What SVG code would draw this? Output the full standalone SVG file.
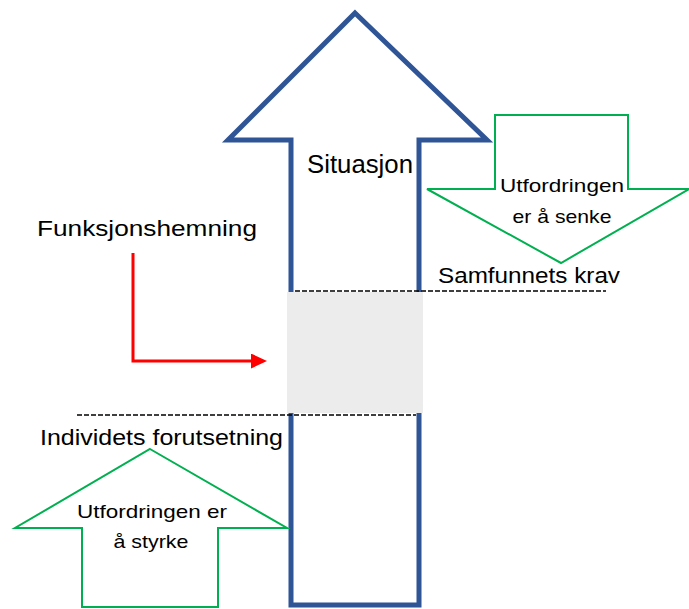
<svg xmlns="http://www.w3.org/2000/svg" width="689" height="609" viewBox="0 0 689 609">
<defs>
<style>
text{font-family:"Liberation Sans",Arial,sans-serif;fill:#000}
.blue{fill:#fff;stroke:#2F5597;stroke-width:5;stroke-linejoin:miter}
.green{fill:#fff;stroke:#00B050;stroke-width:2}
.dash{stroke:#000;stroke-width:1.3;stroke-dasharray:5 2;fill:none}
.lbl{font-size:22px}
.small{font-size:19px;text-anchor:middle}
</style>
<marker id="redhead" markerWidth="5.4" markerHeight="5" refX="0" refY="2.5" orient="auto" markerUnits="strokeWidth">
<path d="M0,0 L5.4,2.5 L0,5 Z" fill="#FF0000"/>
</marker>
</defs>
<rect width="689" height="609" fill="#fff"/>
<g id="situasjon">
<path class="blue" d="M355,13 L487,140 L419,140 L419,605 L291,605 L291,140 L228,140 Z"/>
<rect id="overlap" x="287" y="292" width="136" height="121" fill="#ECECEC"/>
<text x="307" y="173" style="font-size:25px" textLength="106" lengthAdjust="spacingAndGlyphs">Situasjon</text>
</g>
<g id="samfunn">
<path class="green" d="M495,115 L628,115 L628,189 L689,189 L561,263 L427,189 L495,189 Z"/>
<text class="small" x="562" y="192" textLength="124" lengthAdjust="spacingAndGlyphs">Utfordringen</text>
<text class="small" x="562" y="223" textLength="99" lengthAdjust="spacingAndGlyphs">er å senke</text>
</g>
<g id="individ">
<path class="green" d="M150,449 L287,528 L218,528 L218,607 L82,607 L82,528 L15,528 Z"/>
<text class="small" x="152" y="518" textLength="150" lengthAdjust="spacingAndGlyphs">Utfordringen er</text>
<text class="small" x="151" y="548" textLength="75" lengthAdjust="spacingAndGlyphs">å styrke</text>
</g>
<g id="labels">
<text class="lbl" x="37" y="236" textLength="220" lengthAdjust="spacingAndGlyphs">Funksjonshemning</text>
<text class="lbl" x="438" y="283" textLength="182" lengthAdjust="spacingAndGlyphs">Samfunnets krav</text>
<text class="lbl" x="40" y="445" textLength="243" lengthAdjust="spacingAndGlyphs">Individets forutsetning</text>
</g>
<g id="connectors">
<line class="dash" x1="295" y1="291" x2="606" y2="291"/>
<line class="dash" x1="77" y1="415" x2="416" y2="415"/>
<path d="M133,253 L133,361 L251,361" fill="none" stroke="#FF0000" stroke-width="3" marker-end="url(#redhead)"/>
</g>
</svg>
